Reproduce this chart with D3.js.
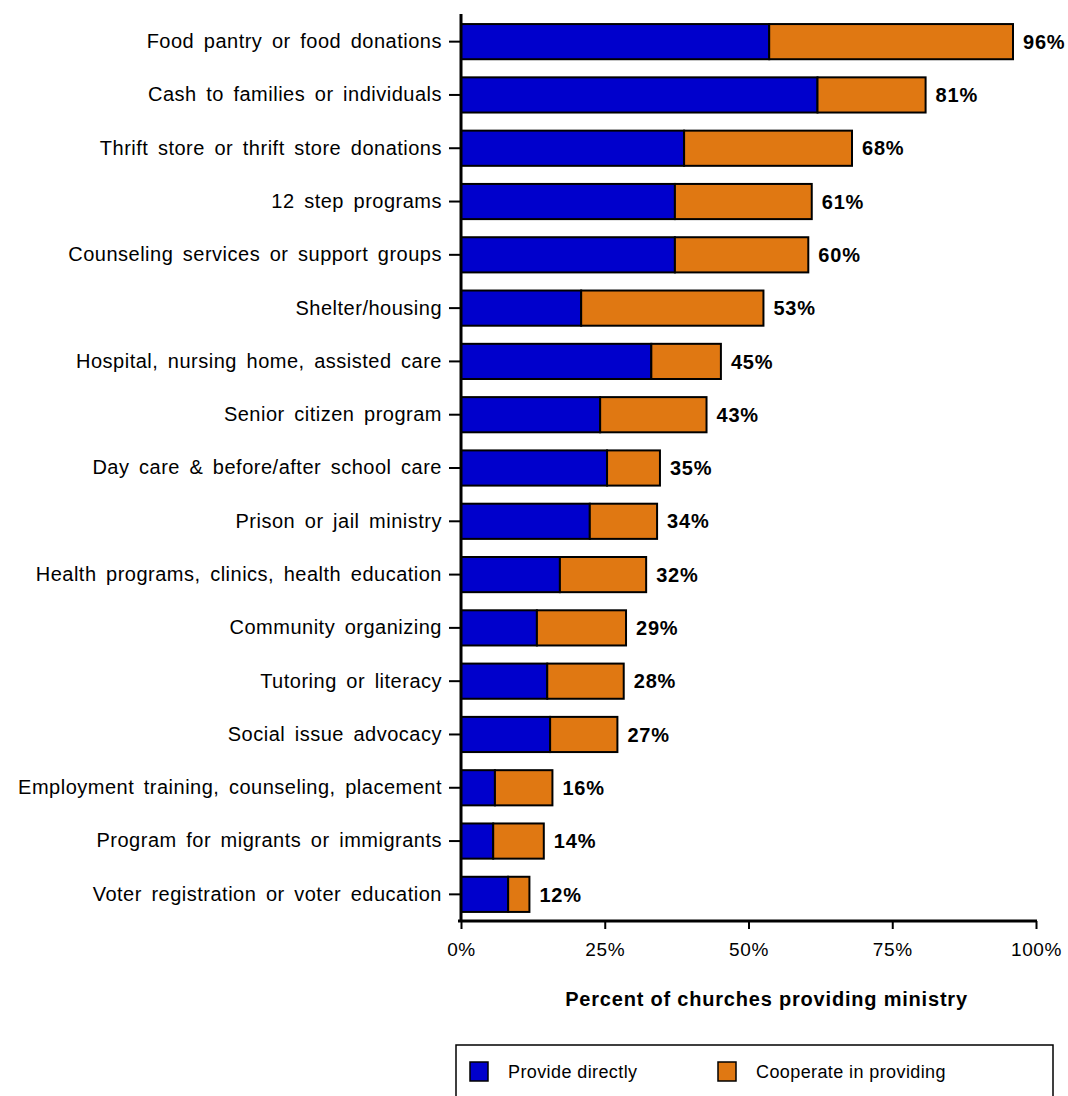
<!DOCTYPE html>
<meta charset="utf-8">
<style>
    body { margin: 0; background: #fff; }
    svg text { font-family: "Liberation Sans", Arial, sans-serif; fill: #000; }
    .cat text { font-size: 20px; letter-spacing: 0.5px; word-spacing: 3.5px; }
    .tick-x text { font-size: 19px; letter-spacing: 0.6px; }
    .val { font-size: 20px; font-weight: bold; letter-spacing: 0.8px; }
</style>
<svg width="1068" height="1096"></svg>
<script src="https://d3js.org/d3.v7.min.js"></script>
<script>

    var categories = [
        "Food pantry or food donations",
        "Cash to families or individuals",
        "Thrift store or thrift store donations",
        "12 step programs",
        "Counseling services or support groups",
        "Shelter/housing",
        "Hospital, nursing home, assisted care",
        "Senior citizen program",
        "Day care & before/after school care",
        "Prison or jail ministry",
        "Health programs, clinics, health education",
        "Community organizing",
        "Tutoring or literacy",
        "Social issue advocacy",
        "Employment training, counseling, placement",
        "Program for migrants or immigrants",
        "Voter registration or voter education"
    ];
    // percent providing directly
    var direct = [53.6, 62, 38.8, 37.2, 37.2, 20.9, 33.1, 24.2, 25.4, 22.4, 17.2, 13.2, 15, 15.5, 5.9, 5.6, 8.2];
    // percent cooperating (total minus direct)
    var cooperate = [42.4, 18.8, 29.2, 23.8, 23.2, 31.7, 12.1, 18.5, 9.2, 11.7, 15, 15.5, 13.3, 11.7, 10, 8.8, 3.7];
    var totalLabels = ["96%", "81%", "68%", "61%", "60%", "53%", "45%", "43%", "35%", "34%", "32%", "29%", "28%", "27%", "16%", "14%", "12%"];
    var xTicks = [0, 25, 50, 75, 100];
    var seriesNames = ["Provide directly", "Cooperate in providing"];
    var colors = ["#0000cc", "#e07812"];

    var svg = d3.select("svg");
    var x0 = 461, x1 = 1036, yTop = 14, yBot = 921;

    var x = d3.scaleLinear().domain([0, 100]).range([x0, x1]);
    var y = d3.scaleBand().domain(categories).range([yTop + 1, yBot])
        .paddingInner(0.34).paddingOuter(0.17);

    var rows = categories.map(function(c, i) {
        return {cat: c, d: direct[i], c: cooperate[i], label: totalLabels[i]};
    });

    var g = svg.append("g");

    // bars
    var bar = g.selectAll(".bar").data(rows).enter().append("g").attr("class", "bar");
    bar.append("rect")
        .attr("x", x(0))
        .attr("y", function(d) { return y(d.cat); })
        .attr("width", function(d) { return x(d.d) - x(0); })
        .attr("height", y.bandwidth())
        .attr("fill", colors[0])
        .attr("stroke", "#000").attr("stroke-width", 2);
    bar.append("rect")
        .attr("x", function(d) { return x(d.d); })
        .attr("y", function(d) { return y(d.cat); })
        .attr("width", function(d) { return x(d.d + d.c) - x(d.d); })
        .attr("height", y.bandwidth())
        .attr("fill", colors[1])
        .attr("stroke", "#000").attr("stroke-width", 2);
    bar.append("text")
        .attr("class", "val")
        .attr("x", function(d) { return x(d.d + d.c) + 10; })
        .attr("y", function(d) { return y(d.cat) + y.bandwidth() / 2; })
        .attr("dy", "0.36em")
        .text(function(d) { return d.label; });

    // y axis
    var yAxis = g.append("g").attr("class", "cat")
        .attr("transform", "translate(" + x0 + ",0)")
        .call(d3.axisLeft(y).tickSize(12).tickPadding(7));
    yAxis.select(".domain").remove();
    yAxis.selectAll(".tick line").attr("stroke", "#000").attr("stroke-width", 2);
    g.append("line").attr("x1", x0).attr("x2", x0).attr("y1", yTop).attr("y2", yBot)
        .attr("stroke", "#000").attr("stroke-width", 3);

    // x axis
    var xAxis = g.append("g").attr("class", "tick-x")
        .attr("transform", "translate(0," + yBot + ")")
        .call(d3.axisBottom(x).tickValues(xTicks).tickSize(8).tickPadding(14)
            .tickFormat(function(d) { return d + "%"; }));
    xAxis.select(".domain").remove();
    xAxis.selectAll(".tick line").attr("stroke", "#000").attr("stroke-width", 2);
    g.append("line").attr("x1", x0 - 3).attr("x2", x1 + 1).attr("y1", yBot).attr("y2", yBot)
        .attr("stroke", "#000").attr("stroke-width", 3);

    // axis title
    svg.append("text")
        .attr("x", (x0 + x1) / 2 + 18).attr("y", 1006)
        .attr("text-anchor", "middle")
        .style("font-size", "20px").style("font-weight", "bold").style("letter-spacing", "0.8px")
        .text("Percent of churches providing ministry");

    // legend
    var leg = svg.append("g");
    leg.append("rect").attr("x", 456).attr("y", 1045).attr("width", 597).attr("height", 60)
        .attr("fill", "none").attr("stroke", "#000").attr("stroke-width", 1.5);
    var legX = [470, 718];
    seriesNames.forEach(function(name, i) {
        leg.append("rect").attr("x", legX[i]).attr("y", 1062).attr("width", 18).attr("height", 19)
            .attr("fill", colors[i]).attr("stroke", "#000").attr("stroke-width", 1.5);
        leg.append("text").attr("x", legX[i] + 38).attr("y", 1072).attr("dy", "0.36em")
            .style("font-size", "18px").style("letter-spacing", "0.4px").text(name);
    });
</script>
